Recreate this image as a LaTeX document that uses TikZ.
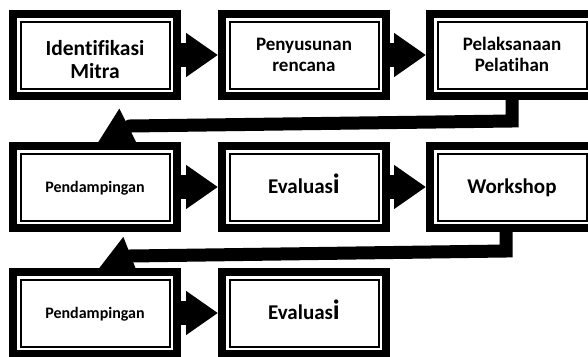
\documentclass[tikz,border=0pt]{standalone}
\usepackage{fontspec}
\setmainfont{Carlito}[Ligatures=NoCommon]
\usetikzlibrary{positioning,arrows.meta}
\tikzset{step box/.style={draw,line width=8pt,minimum width=164pt,minimum height=82pt,inner sep=0pt,align=center,text depth=0pt,
  path picture={\draw[line width=2pt] ([shift={(7.5pt,-7.5pt)}]path picture bounding box.north west) rectangle ([shift={(-7.5pt,7.5pt)}]path picture bounding box.south east);}},}
\tikzset{next arrow/.style={-{Triangle[length=32pt,width=42pt]},line width=24pt},}
\tikzset{back arrow/.style={-{Triangle[length=34pt,width=38pt]},line width=13pt},}
\tikzset{big text/.style={font=\bfseries\fontsize{21}{25.5}\selectfont,text height=13.5pt},}
\tikzset{mid text/.style={font=\bfseries\fontsize{19}{21.2}\selectfont,text height=33.4pt},}
\tikzset{top text/.style={font=\bfseries\fontsize{21.5}{23}\selectfont,text height=46.6pt},}
\tikzset{small text/.style={font=\bfseries\fontsize{16}{19}\selectfont,text height=10.3pt},}
\newcommand{\bigi}{{\fontsize{28}{30}\selectfont i}}

\begin{document}
\begin{tikzpicture}[x=1pt,y=-1pt]
       \useasboundingbox (0,0) rectangle (588,356);
       \clip (0,0) rectangle (588,356);

       \node[step box,top text] (ident) at (95,55) {Identifikasi\\Mitra};
       \node[step box,mid text] (susun) [right = 37pt of ident] {Penyusunan\\rencana};
       \node[step box,mid text] (laksana) [right = 36pt of susun] {Pelaksanaan\\Pelatihan};

       \node[step box,small text] (damping) [below = 42pt of ident] {Pendampingan};
       \node[step box,big text] (eval) [right = 37pt of damping] {Evaluas\bigi};
       \node[step box,big text] (work) [right = 36pt of eval] {Workshop};

       \node[step box,small text] (dampingb) [below = 36pt of damping] {Pendampingan};
       \node[step box,big text] (evalb) [right = 37pt of dampingb] {Evaluas\bigi};

       \coordinate (drop1) at ([yshift=-21pt]laksana.south);
       \coordinate (bend1) at (130,126);
       \coordinate (drop2) at ([xshift=-6pt,yshift=-19pt]work.south);
       \coordinate (bend2) at (130,256);

       \draw[next arrow]
       (ident) -- (susun);
       \draw[next arrow]
       (susun) -- (laksana);
       \draw[next arrow]
       (damping) -- (eval);
       \draw[next arrow]
       (eval) -- (work);
       \draw[next arrow]
       (dampingb) -- (evalb);

       \draw[back arrow] (laksana.south) -- (drop1) -- (bend1) -- ([xshift=3pt]damping.north);
       \draw[back arrow] ([xshift=-6pt]work.south) -- (drop2) -- (bend2) -- ([xshift=4pt]dampingb.north);
    \end{tikzpicture}
\end{document}
